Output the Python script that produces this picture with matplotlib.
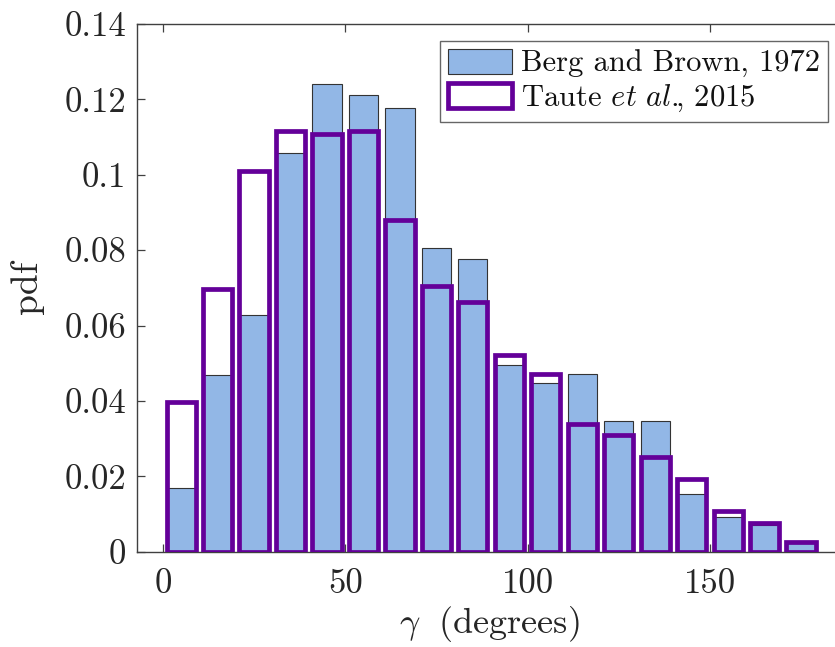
import matplotlib
matplotlib.use('Agg')
import matplotlib.pyplot as plt
from matplotlib.patches import Patch
import numpy as np

# bin centres (degrees), 10-degree bins
bin_centres = [5, 15, 25, 35, 45, 55, 65, 75, 85, 95, 105, 115, 125, 135, 145, 155, 165, 175]

# Berg and Brown, 1972
berg_pdf = [0.0170, 0.0470, 0.0628, 0.1057, 0.1240, 0.1212, 0.1178, 0.0807, 0.0777,
            0.0496, 0.0447, 0.0472, 0.0348, 0.0348, 0.0154, 0.0091, 0.0072, 0.0024]

# Taute et al., 2015
taute_pdf = [0.0396, 0.0697, 0.1010, 0.1117, 0.1107, 0.1116, 0.0881, 0.0706, 0.0662,
             0.0522, 0.0471, 0.0339, 0.0310, 0.0252, 0.0194, 0.0107, 0.0077, 0.0027]

x_ticks = [0, 50, 100, 150]
y_ticks = [0, 0.02, 0.04, 0.06, 0.08, 0.1, 0.12, 0.14]
y_tick_labels = ['0', '0.02', '0.04', '0.06', '0.08', '0.1', '0.12', '0.14']

blue = '#92b7e6'
purple = '#640099'

plt.rcParams['font.family'] = 'serif'
plt.rcParams['font.serif'] = ['cmr10']
plt.rcParams['mathtext.fontset'] = 'cm'
plt.rcParams['axes.unicode_minus'] = False
plt.rcParams['axes.formatter.use_mathtext'] = True

fig = plt.figure(figsize=(8.35, 6.47), dpi=100)
W, H = 835, 647
ax = fig.add_axes([137 / W, 1 - 551.7 / H, 1 - 137 / W, (551.7 - 24) / H])

ax.bar(bin_centres, berg_pdf, width=8, color=blue, edgecolor='#333333', linewidth=0.8,
       zorder=2)
ax.bar(bin_centres, taute_pdf, width=8, facecolor='none', edgecolor=purple, linewidth=3.4,
       zorder=3)

ax.set_xlim(-7.1, 184.3)
ax.set_ylim(0, 0.14)
ax.set_xticks(x_ticks)
ax.set_xticklabels([str(t) for t in x_ticks])
ax.set_yticks(y_ticks)
ax.set_yticklabels(y_tick_labels)

for side in ['left', 'bottom', 'top']:
    ax.spines[side].set_color('#404040')
    ax.spines[side].set_linewidth(1.0)
ax.spines['right'].set_visible(False)

ax.tick_params(axis='both', direction='in', length=6, width=0.9, color='#404040',
               labelsize=25, labelcolor='#262626')
ax.tick_params(axis='x', top=True, pad=12)
ax.tick_params(axis='y', pad=8)

ax.set_xlabel(r'$\gamma\;$ (degrees)', fontsize=26, color='#262626')
ax.xaxis.set_label_coords(0.505, -0.1)
ax.set_ylabel('pdf', fontsize=27, color='#262626')
ax.yaxis.set_label_coords(-0.133, 0.5)

handles = [Patch(facecolor=blue, edgecolor='#333333', linewidth=0.8),
           Patch(facecolor='white', edgecolor=purple, linewidth=3.4)]
labels = ['Berg and Brown, 1972', r'Taute $\mathit{et\ al.}\!\!$, 2015']
leg = ax.legend(handles, labels, loc='upper right', bbox_to_anchor=(828 / W, 1 - 41 / H),
                bbox_transform=fig.transFigure, borderaxespad=0, fontsize=22,
                handlelength=2.1, handleheight=0.9, handletextpad=0.3,
                labelspacing=0.15, borderpad=0.25, fancybox=False, framealpha=1)
leg.get_frame().set_edgecolor('#666666')
leg.get_frame().set_linewidth(1.0)
for t in leg.get_texts():
    t.set_color('#111111')

fig.savefig('out.png', dpi=100)
